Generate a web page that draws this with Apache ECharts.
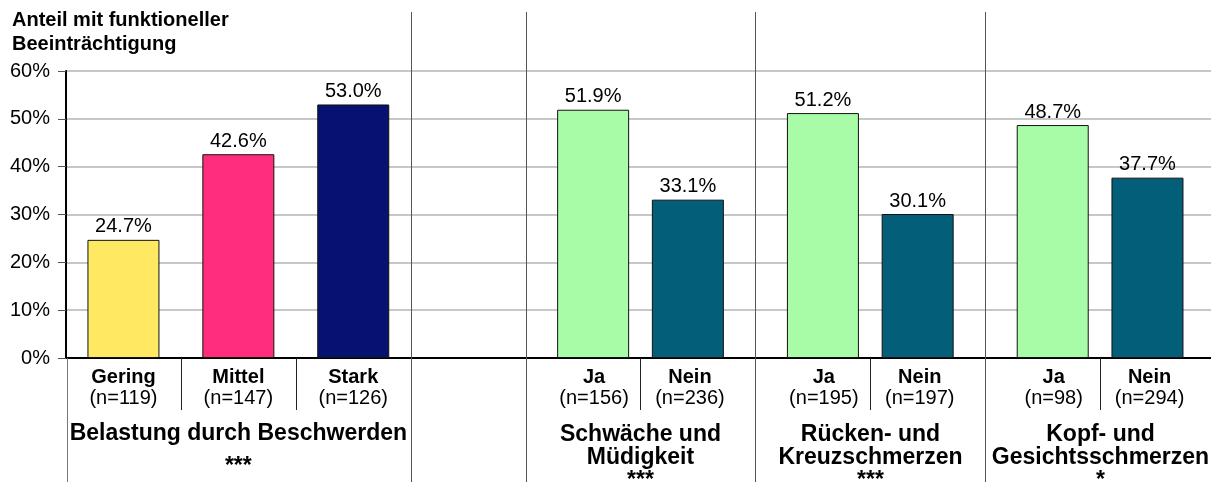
<!DOCTYPE html>
<html>
<head>
<meta charset="utf-8">
<script src="https://cdn.jsdelivr.net/npm/echarts@6/dist/echarts.min.js"></script>
<style>
html,body{margin:0;padding:0;background:#fff;}
#main{width:1211px;height:482px;}
</style>
</head>
<body>
<div id="main"></div>
<script>
// Kategorien (4. Platz ist die Lücke zwischen den Blöcken)
var categories = ['Gering', 'Mittel', 'Stark', '', 'Ja', 'Nein', 'Ja', 'Nein', 'Ja', 'Nein'];
var sampleSizes = ['(n=119)', '(n=147)', '(n=126)', '', '(n=156)', '(n=236)', '(n=195)', '(n=197)', '(n=98)', '(n=294)'];
var belastungValues = [24.7, 42.6, 53.0, '-', '-', '-', '-', '-', '-', '-'];
var jaValues = ['-', '-', '-', '-', 51.9, '-', 51.2, '-', 48.7, '-'];
var neinValues = ['-', '-', '-', '-', '-', 33.1, '-', 30.1, '-', 37.7];
var belastungColors = ['#ffe862', '#ff2d7b', '#05126f'];
var jaColor = '#a8fca8';
var neinColor = '#035f79';
var yMin = 0, yMax = 60, yStep = 10;
var groupTitles = ['Belastung durch Beschwerden', 'Schwäche und\nMüdigkeit', 'Rücken- und\nKreuzschmerzen', 'Kopf- und\nGesichtsschmerzen'];
var groupStars = ['***', '***', '***', '*'];

var FONT = '"Liberation Sans", Arial, Helvetica, sans-serif';

var myChart = echarts.init(document.getElementById('main'));

function barLabel() {
    return {
        show: true,
        position: 'top',
        distance: 3,
        fontFamily: FONT,
        fontSize: 20,
        color: '#000',
        formatter: function (p) { return p.value.toFixed(1) + '%'; }
    };
}

var option = {
    animation: false,
    backgroundColor: '#fff',
    textStyle: { fontFamily: FONT },
    title: {
        text: 'Anteil mit funktioneller\nBeeinträchtigung',
        left: 12,
        top: 8,
        padding: 0,
        textStyle: { fontFamily: FONT, fontSize: 20, fontWeight: 'bold', color: '#000', lineHeight: 24 }
    },
    grid: { left: 66, right: -4, top: 71, bottom: 124, outerBoundsMode: 'none' },
    xAxis: {
        type: 'category',
        data: categories,
        axisLine: { show: true, lineStyle: { color: '#000', width: 2 } },
        axisTick: { show: false },
        splitLine: { show: false },
        axisLabel: {
            interval: 0,
            margin: 9,
            formatter: function (v, i) {
                if (!v) return '';
                var b = 'b', n = 'n';
                if (v == 'Ja') { b = 'jb'; n = 'jn'; }
                if (v == 'Nein') { b = 'nb'; n = 'nn'; }
                return '{' + b + '|' + v + '}\n{' + n + '|' + sampleSizes[i] + '}';
            },
            rich: {
                b: { fontFamily: FONT, fontSize: 20, fontWeight: 'bold', color: '#000', lineHeight: 21 },
                n: { fontFamily: FONT, fontSize: 20, color: '#000', lineHeight: 21 },
                jb: { fontFamily: FONT, fontSize: 20, fontWeight: 'bold', color: '#000', lineHeight: 21, padding: [0, 0, 0, 22] },
                jn: { fontFamily: FONT, fontSize: 20, color: '#000', lineHeight: 21, padding: [0, 0, 0, 22] },
                nb: { fontFamily: FONT, fontSize: 20, fontWeight: 'bold', color: '#000', lineHeight: 21, padding: [0, 16, 0, 0] },
                nn: { fontFamily: FONT, fontSize: 20, color: '#000', lineHeight: 21, padding: [0, 16, 0, 0] }
            }
        }
    },
    yAxis: {
        type: 'value',
        min: yMin,
        max: yMax,
        interval: yStep,
        axisLine: { show: true, lineStyle: { color: '#000', width: 2 } },
        axisTick: { show: true, length: 8, lineStyle: { color: '#555', width: 1 } },
        axisLabel: { margin: 16, fontFamily: FONT, fontSize: 20, color: '#000', formatter: '{value}%' },
        splitLine: { show: true, lineStyle: { color: '#b4b4b4', width: 1.5 } }
    },
    series: [
        {
            name: 'Nein', type: 'bar', data: neinValues,
            barWidth: 72, barGap: '-86%',
            itemStyle: { color: neinColor, borderColor: '#111', borderWidth: 1 },
            label: barLabel()
        },
        {
            name: 'Belastung', type: 'bar', data: belastungValues,
            barWidth: 72, barGap: '-86%',
            itemStyle: {
                color: function (p) { return belastungColors[p.dataIndex]; },
                borderColor: '#111', borderWidth: 1
            },
            label: barLabel()
        },
        {
            name: 'Ja', type: 'bar', data: jaValues,
            barWidth: 72, barGap: '-86%',
            itemStyle: { color: jaColor, borderColor: '#111', borderWidth: 1 },
            label: barLabel()
        }
    ]
};
myChart.setOption(option);

// Trennlinien und Gruppentitel aus den Achsenpositionen
function cx(i) { return myChart.convertToPixel({ xAxisIndex: 0 }, i); }
var step = cx(1) - cx(0);
function bx(i) { return Math.round(cx(0) - step / 2 + i * step) + 0.5; }
var y0 = myChart.convertToPixel({ yAxisIndex: 0 }, 0);

var g = [];
function vline(x, y1, y2, col) {
    g.push({ type: 'line', silent: true, z: 10, shape: { x1: x, y1: y1, x2: x, y2: y2 }, style: { stroke: col, lineWidth: 1 } });
}
vline(bx(0) + 1, y0, 482, '#777');
[3, 4, 6, 8].forEach(function (i) { vline(bx(i), 12, 482, '#555'); });
[1, 2, 5, 7, 9].forEach(function (i) { vline(bx(i), y0, y0 + 52, '#222'); });

function gtext(x, y, txt) {
    g.push({
        type: 'text', silent: true, x: x, y: y,
        style: { text: txt, align: 'center', verticalAlign: 'top', fontFamily: FONT, fontSize: 23, fontWeight: 'bold', lineHeight: 23, fill: '#000' }
    });
}
gtext(cx(1), 422.5, groupTitles[0]);
gtext(cx(1), 455.5, groupStars[0]);
gtext(bx(5), 423.5, groupTitles[1] + '\n' + groupStars[1]);
gtext(bx(7), 423.5, groupTitles[2] + '\n' + groupStars[2]);
gtext(bx(9), 423.5, groupTitles[3] + '\n' + groupStars[3]);

myChart.setOption({ graphic: g });
</script>
</body>
</html>
